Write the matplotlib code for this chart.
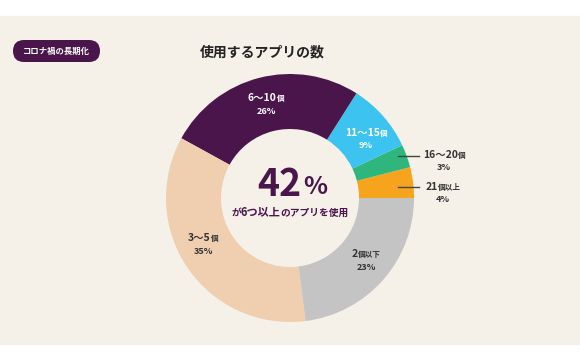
import matplotlib.pyplot as plt
from matplotlib.patches import Rectangle, FancyBboxPatch
from matplotlib.offsetbox import TextArea, HPacker, AnnotationBbox

plt.rcParams['font.family'] = ['Noto Sans CJK JP', 'DejaVu Sans']

# data
categories = ['21個以上', '16〜20個', '11〜15個', '6〜10個', '3〜5個', '2個以下']
shares = [4, 3, 9, 26, 35, 23]
colors = ['#f6a31e', '#2fb67c', '#3cc3ef', '#4a154b', '#efcfb0', '#c4c4c4']

PURPLE = '#4a154b'
BG = '#f5f0e8'
TXT = '#333333'

fig = plt.figure(figsize=(5.8, 3.6), dpi=100)
ax = fig.add_axes([0, 0, 1, 1])

# beige panel
ax.add_patch(Rectangle((0, 16), 580, 328, color=BG, zorder=0))

# donut
cx, cy, R, w = 290, 162, 124, 55
ax.pie(shares, colors=colors, startangle=0, counterclock=True,
       center=(cx, cy), radius=R, frame=True,
       wedgeprops=dict(width=w, linewidth=0))
ax.set_xlim(0, 580)
ax.set_ylim(0, 360)
ax.set_aspect('equal')
ax.axis('off')


def mixed(x, y, parts, color, size_big=7.5, size_small=5.5):
    # parts: list of (text, is_big)
    boxes = [TextArea(t, textprops=dict(color=color, fontweight='bold',
                                        fontsize=size_big if big else size_small))
             for t, big in parts]
    pack = HPacker(children=boxes, align='baseline', pad=0, sep=0)
    ab = AnnotationBbox(pack, (x, y), frameon=False, box_alignment=(0.5, 0.5), pad=0)
    ax.add_artist(ab)


def label(x, y, parts, pct, color):
    mixed(x, 360 - y, parts, color)
    ax.text(x, 360 - y - 13, pct, color=color, fontsize=6.5, fontweight='bold',
            ha='center', va='center')


label(266, 98, [('6〜10', True), ('個', False)], '26%', 'white')
label(366, 133, [('11〜15', True), ('個', False)], '9%', 'white')
label(203, 238, [('3〜5', True), ('個', False)], '35%', TXT)
label(366, 254, [('2', True), ('個以下', False)], '23%', TXT)

# outside labels with leader lines
ax.plot([398, 419], [360 - 156, 360 - 156], color='#444444', lw=1)
label(444, 155, [('16〜20', True), ('個', False)], '3%', TXT)
ax.plot([398, 419], [360 - 187, 360 - 187], color='#444444', lw=1)
label(443, 187, [('21', True), ('個以上', False)], '4%', TXT)

# center text
ax.text(301, 360 - 184, '42', color=PURPLE, fontsize=27, fontweight='bold', ha='right', va='center')
ax.text(303, 360 - 187, '%', color=PURPLE, fontsize=18, fontweight='bold', ha='left', va='center')
mixed(290, 360 - 212, [('が', False), ('6つ以上', True), ('のアプリを使用', False)], PURPLE,
      size_big=8, size_small=7)

# title and badge
ax.text(262, 360 - 52, '使用するアプリの数', color='#222222', fontsize=10, fontweight='bold',
        ha='center', va='center')
ax.add_patch(FancyBboxPatch((13, 360 - 62), 87, 22, boxstyle='round,pad=0,rounding_size=11',
                            facecolor=PURPLE, edgecolor='none'))
ax.text(56, 360 - 51, 'コロナ禍の長期化', color='white', fontsize=6, fontweight='bold',
        ha='center', va='center')

fig.savefig('out.png', dpi=100, facecolor='white')
